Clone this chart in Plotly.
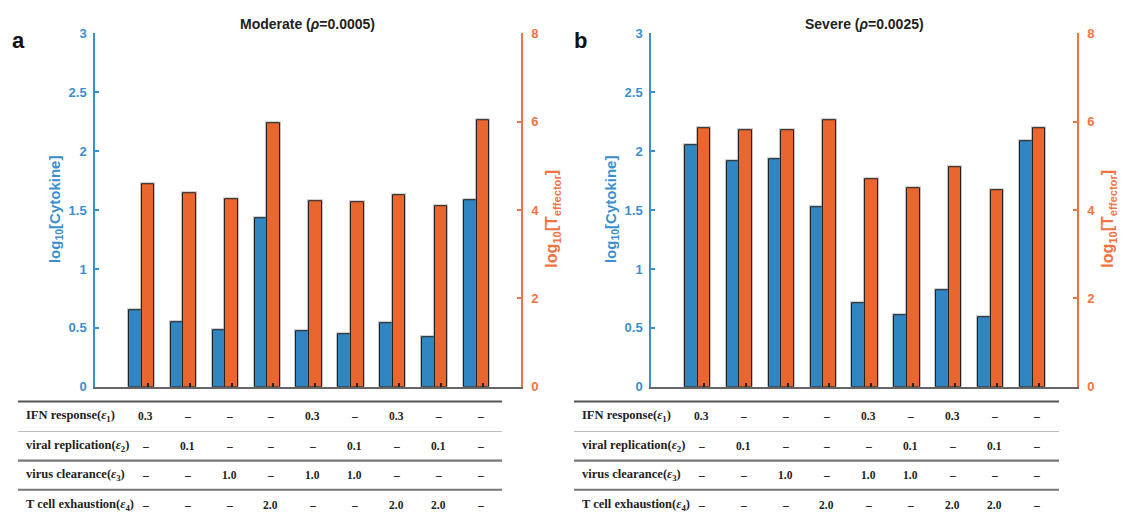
import plotly.graph_objects as go

# Scenario index (one bar pair per intervention combination)
scenarios = [1, 2, 3, 4, 5, 6, 7, 8, 9]

# log10 cytokine (left axis) and log10 effector T cells (right axis)
moderate_cytokine = [0.65, 0.55, 0.48, 1.43, 0.47, 0.45, 0.54, 0.42, 1.58]
moderate_teffector = [4.58, 4.39, 4.24, 5.96, 4.21, 4.17, 4.34, 4.09, 6.03]
severe_cytokine = [2.05, 1.91, 1.93, 1.52, 0.71, 0.61, 0.82, 0.59, 2.08]
severe_teffector = [5.84, 5.81, 5.81, 6.04, 4.70, 4.50, 4.96, 4.45, 5.84]

# Intervention strengths per scenario (None = not applied)
eps1 = [0.3, None, None, None, 0.3, None, 0.3, None, None]
eps2 = [None, 0.1, None, None, None, 0.1, None, 0.1, None]
eps3 = [None, None, 1.0, None, 1.0, 1.0, None, None, None]
eps4 = [None, None, None, 2.0, None, None, 2.0, 2.0, None]
row_labels = [
    "IFN response(<i>ε</i><sub>1</sub>)",
    "viral replication(<i>ε</i><sub>2</sub>)",
    "virus clearance(<i>ε</i><sub>3</sub>)",
    "T cell exhaustion(<i>ε</i><sub>4</sub>)",
]
panel_titles = ["Moderate (<i>ρ</i>=0.0005)", "Severe (<i>ρ</i>=0.0025)"]
panel_letters = ["a", "b"]

W, H = 1126, 526
BAR_BLUE = "#2F86C1"
BAR_ORANGE = "#E9672F"
AX_BLUE = "#3A8FCE"
AX_ORANGE = "#F07442"
SANS = "Liberation Sans"
SERIF = "Liberation Serif"


def px(x):
    return x / W


def py(y):
    return 1 - y / H


fig = go.Figure()

panels = [
    dict(cyt=moderate_cytokine, teff=moderate_teffector, x0=95, x1=521,
         xa="x", ya="y", ya2="y2", line=(18, 502)),
    dict(cyt=severe_cytokine, teff=severe_teffector, x0=651, x1=1077,
         xa="x2", ya="y3", ya2="y4", line=(574, 1059)),
]

bar_w = 0.30
for p in panels:
    # soft grey outline under each bar, then the bar itself
    for vals, yax, off, col in [(p["cyt"], p["ya"], -1.5 * bar_w, BAR_BLUE),
                                (p["teff"], p["ya2"], -0.5 * bar_w, BAR_ORANGE)]:
        fig.add_trace(go.Bar(
            x=scenarios, y=vals, width=bar_w, offset=off,
            marker=dict(color=col, line=dict(color="rgba(120,120,120,0.45)", width=3)),
            xaxis=p["xa"], yaxis=yax, showlegend=False, hoverinfo="skip",
        ))
        fig.add_trace(go.Bar(
            x=scenarios, y=vals, width=bar_w, offset=off,
            marker=dict(color=col, line=dict(color="#222222", width=1)),
            xaxis=p["xa"], yaxis=yax, showlegend=False,
        ))

y_dom = [py(391), py(27)]
tickfont_blue = dict(family=SANS, size=13, color=AX_BLUE, weight="bold")
tickfont_orange = dict(family=SANS, size=13, color=AX_ORANGE, weight="bold")

layout_axes = {}
for i, p in enumerate(panels):
    xk = "xaxis" if i == 0 else "xaxis2"
    yk = "yaxis" if i == 0 else "yaxis3"
    y2k = "yaxis2" if i == 0 else "yaxis4"
    layout_axes[xk] = dict(
        domain=[px(p["x0"]), px(p["x1"])], range=[-0.26, 9.91],
        anchor=p["ya"], showline=True, linecolor="#666666", linewidth=1.5,
        ticks="inside", ticklen=4, tickwidth=1.5, tickcolor="#222222",
        tickvals=scenarios, showticklabels=False, showgrid=False, zeroline=False,
    )
    layout_axes[yk] = dict(
        domain=y_dom, range=[0, 3], dtick=0.5, tick0=0, anchor=p["xa"],
        showline=True, linecolor=AX_BLUE, linewidth=1.5,
        ticks="inside", ticklen=4, tickwidth=1.5, tickcolor=AX_BLUE,
        tickfont=tickfont_blue, showgrid=False, zeroline=False,
        ticklabelstandoff=4,
    )
    layout_axes[y2k] = dict(
        range=[0, 8], dtick=2, tick0=0, anchor=p["xa"], overlaying=p["ya"],
        side="right", showline=True, linecolor=AX_ORANGE, linewidth=1.5,
        ticks="inside", ticklen=4, tickwidth=1.5, tickcolor=AX_ORANGE,
        tickfont=tickfont_orange, showgrid=False, zeroline=False,
        ticklabelstandoff=6,
    )

annotations = []
shapes = []
row_y = [421, 452, 482, 513]
rows = [eps1, eps2, eps3, eps4]
for i, p in enumerate(panels):
    cx = (p["x0"] + p["x1"]) / 2
    # panel title
    annotations.append(dict(
        text="<b>" + panel_titles[i] + "</b>", x=px(cx), y=py(17),
        xref="paper", yref="paper", showarrow=False,
        font=dict(family=SANS, size=14, color="#222222"),
        xanchor="center", yanchor="middle",
    ))
    # panel letter
    annotations.append(dict(
        text="<b>" + panel_letters[i] + "</b>",
        x=px(18 if i == 0 else 580), y=py(34),
        xref="paper", yref="paper", showarrow=False,
        font=dict(family=SANS, size=22, color="#111111"),
        xanchor="center", yanchor="middle",
    ))
    # axis titles
    annotations.append(dict(
        text="<b>log<sub>10</sub>[Cytokine]</b>",
        x=px(p["x0"] - 40), y=py(208), xref="paper", yref="paper",
        showarrow=False, textangle=-90,
        font=dict(family=SANS, size=15, color=AX_BLUE),
        xanchor="center", yanchor="middle",
    ))
    annotations.append(dict(
        text="<b>log<sub>10</sub>[T<sub>effector</sub>]</b>",
        x=px(p["x1"] + 32), y=py(218), xref="paper", yref="paper",
        showarrow=False, textangle=-90,
        font=dict(family=SANS, size=16, color=AX_ORANGE),
        xanchor="center", yanchor="middle",
    ))
    # intervention table
    lx0, lx1 = p["line"]
    for label, vals, ry in zip(row_labels, rows, row_y):
        annotations.append(dict(
            text="<b>" + label + "</b>", x=px(lx0 + 6), y=py(ry),
            xref="paper", yref="paper", showarrow=False,
            font=dict(family=SERIF, size=12.5, color="#222222"),
            xanchor="left", yanchor="middle",
        ))
        for s, v in zip(scenarios, vals):
            annotations.append(dict(
                text="<b>" + (f"{v:.1f}" if v is not None else "–") + "</b>",
                x=s - 0.06, y=py(ry), xref=p["xa"], yref="paper",
                showarrow=False,
                font=dict(family=SERIF, size=11.5, color="#222222"),
                xanchor="center", yanchor="middle",
            ))
    for ly, col, lw in [(406, "#555555", 2), (437, "#BBBBBB", 1),
                        (467, "#777777", 2.2), (497, "#777777", 2)]:
        shapes.append(dict(
            type="line", xref="paper", yref="paper",
            x0=px(lx0), x1=px(lx1), y0=py(ly), y1=py(ly),
            line=dict(color=col, width=lw),
        ))

fig.update_layout(
    width=W, height=H, margin=dict(l=0, r=0, t=0, b=0),
    paper_bgcolor="white", plot_bgcolor="white",
    barmode="overlay", bargap=0,
    annotations=annotations, shapes=shapes,
    **layout_axes,
)

fig.write_html("out.html")
